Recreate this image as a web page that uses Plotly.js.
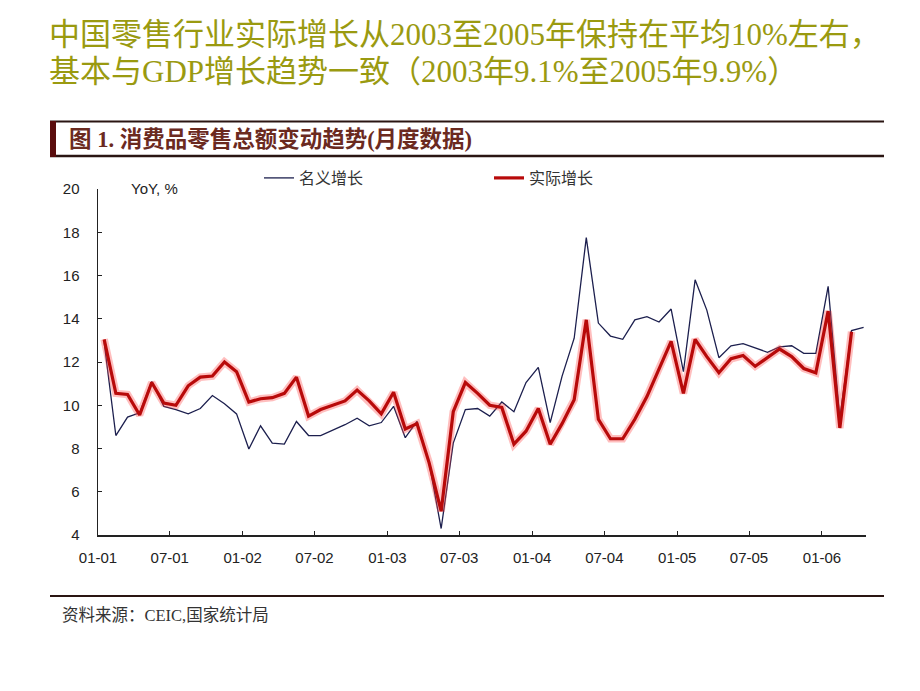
<!DOCTYPE html>
<html>
<head>
<meta charset="utf-8">
<script src="https://cdn.plot.ly/plotly-3.0.1.min.js"></script>
<style>
html,body{margin:0;padding:0;background:#fff;}
#chart{width:920px;height:691px;}
</style>
</head>
<body>
<div id="chart"></div>
<script>
// Months (YYYY-MM)
const months = [
"2001-01","2001-02","2001-03","2001-04","2001-05","2001-06","2001-07","2001-08","2001-09","2001-10","2001-11","2001-12",
"2002-01","2002-02","2002-03","2002-04","2002-05","2002-06","2002-07","2002-08","2002-09","2002-10","2002-11","2002-12",
"2003-01","2003-02","2003-03","2003-04","2003-05","2003-06","2003-07","2003-08","2003-09","2003-10","2003-11","2003-12",
"2004-01","2004-02","2004-03","2004-04","2004-05","2004-06","2004-07","2004-08","2004-09","2004-10","2004-11","2004-12",
"2005-01","2005-02","2005-03","2005-04","2005-05","2005-06","2005-07","2005-08","2005-09","2005-10","2005-11","2005-12",
"2006-01","2006-02","2006-03","2006-04"
];

// 名义增长 (nominal YoY, %)
const nominal = [
12.9, 8.6, 9.45, 9.65, 11.1, 9.95, 9.8, 9.6, 9.85, 10.45, 10.07, 9.6,
7.98, 9.05, 8.25, 8.2, 9.25, 8.6, 8.6, 8.85, 9.1, 9.4, 9.05, 9.2,
9.95, 8.5, 9.25, 7.35, 4.3, 8.25, 9.8, 9.85, 9.5, 10.15, 9.7, 11.05,
11.75, 9.2, 11.35, 13.1, 17.75, 13.8, 13.2, 13.05, 13.95, 14.1, 13.85, 14.45,
11.55, 15.8, 14.4, 12.2, 12.75, 12.85, 12.65, 12.45, 12.7, 12.75, 12.4, 12.4,
15.5, 9.4, 13.45, 13.6
];

// 实际增长 (real YoY, %)
const real = [
13.05, 10.55, 10.5, 9.55, 11.05, 10.1, 10.0, 10.9, 11.3, 11.35, 12.0, 11.55,
10.15, 10.3, 10.35, 10.55, 11.3, 9.5, 9.8, 10.0, 10.2, 10.7, 10.2, 9.6,
10.6, 8.9, 9.15, 7.35, 5.1, 9.7, 11.05, 10.55, 10.0, 9.9, 8.2, 8.8,
9.85, 8.2, 9.15, 10.25, 13.95, 9.35, 8.45, 8.45, 9.35, 10.4, 11.7, 12.95,
10.55, 13.05, 12.25, 11.5, 12.15, 12.3, 11.8, 12.2, 12.6, 12.25, 11.7, 11.5,
14.35, 8.95, 13.4
];

const seriesNames = ["名义增长", "实际增长"];
const yTicks = [4, 6, 8, 10, 12, 14, 16, 18, 20];

const titleLine1 = "中国零售行业实际增长从2003至2005年保持在平均10%左右，";
const titleLine2 = "基本与GDP增长趋势一致（2003年9.1%至2005年9.9%）";
const figTitle = "图 1. 消费品零售总额变动趋势(月度数据)";
const yUnit = "YoY, %";
const sourceText = "资料来源：CEIC,国家统计局";

const realMonths = months.slice(0, real.length);

const traces = [
  {
    x: months, y: nominal, type: "scatter", mode: "lines", name: seriesNames[0],
    xperiod: "M1", xperiodalignment: "middle",
    line: {color: "#1c1f4e", width: 1.3}
  },
  {
    x: realMonths, y: real, type: "scatter", mode: "lines", showlegend: false,
    xperiod: "M1", xperiodalignment: "middle", hoverinfo: "skip",
    line: {color: "rgba(255,70,70,0.35)", width: 7.5}
  },
  {
    x: realMonths, y: real, type: "scatter", mode: "lines", name: seriesNames[1],
    xperiod: "M1", xperiodalignment: "middle",
    line: {color: "#b80a0a", width: 3.2}
  }
];

const L = 98, R = 54, T = 189, B = 156;
const W = 920 - L - R, H = 691 - T - B;
const px = v => (v - L) / W;
const py = v => (691 - B - v) / H;

const serif = "Liberation Serif, Noto Sans CJK SC, serif";
const sans = "Liberation Sans, Arial, sans-serif";

const layout = {
  width: 920, height: 691,
  margin: {l: L, r: R, t: T, b: B},
  paper_bgcolor: "#ffffff", plot_bgcolor: "#ffffff",
  showlegend: true,
  legend: {
    orientation: "h", x: px(259), y: py(178), xanchor: "left", yanchor: "middle",
    font: {family: "Noto Sans CJK SC, sans-serif", size: 16, color: "#333"},
    entrywidth: 185, entrywidthmode: "pixels", bgcolor: "rgba(0,0,0,0)",
    itemclick: false, itemdoubleclick: false
  },
  xaxis: {
    type: "date",
    range: ["2001-01-01", "2006-04-22"],
    tick0: "2001-01-01", dtick: "M6", tickformat: "%m-%y",
    ticks: "inside", ticklen: 4, tickcolor: "#222", tickwidth: 1,
    ticklabelstandoff: 8,
    showline: true, linecolor: "#222", linewidth: 1.5,
    showgrid: false, zeroline: false,
    tickfont: {family: sans, size: 15, color: "#222"}
  },
  yaxis: {
    range: [4, 20], tickvals: yTicks,
    ticks: "inside", ticklen: 4, tickcolor: "#222", tickwidth: 1,
    ticklabelstandoff: 14,
    showline: true, linecolor: "#222", linewidth: 1.5,
    showgrid: false, zeroline: false,
    tickfont: {family: sans, size: 15, color: "#222"}
  },
  shapes: [
    {type: "line", xref: "paper", yref: "paper", x0: px(50), x1: px(884), y0: py(121.5), y1: py(121.5), line: {color: "#2a1512", width: 2}},
    {type: "line", xref: "paper", yref: "paper", x0: px(50), x1: px(884), y0: py(156), y1: py(156), line: {color: "#2a1512", width: 2.5}},
    {type: "rect", xref: "paper", yref: "paper", x0: px(50), x1: px(56), y0: py(157), y1: py(121), fillcolor: "#5a0d0d", line: {width: 0}},
    {type: "line", xref: "paper", yref: "paper", x0: px(50), x1: px(884), y0: py(596), y1: py(596), line: {color: "#2a1512", width: 2}}
  ],
  annotations: [
    {xref: "paper", yref: "paper", x: px(47), y: py(34), xanchor: "left", yanchor: "middle", showarrow: false,
     text: titleLine1, font: {family: serif, size: 31, color: "#9a9a10"}},
    {xref: "paper", yref: "paper", x: px(47), y: py(72), xanchor: "left", yanchor: "middle", showarrow: false,
     text: titleLine2, font: {family: serif, size: 31, color: "#9a9a10"}},
    {xref: "paper", yref: "paper", x: px(67), y: py(139), xanchor: "left", yanchor: "middle", showarrow: false,
     text: figTitle, font: {family: serif, size: 22.5, color: "#6b2a1f", weight: "bold"}},
    {xref: "paper", yref: "paper", x: px(129), y: py(188), xanchor: "left", yanchor: "middle", showarrow: false,
     text: yUnit, font: {family: sans, size: 15, color: "#222"}},
    {xref: "paper", yref: "paper", x: px(60), y: py(615), xanchor: "left", yanchor: "middle", showarrow: false,
     text: sourceText, font: {family: serif, size: 16.5, color: "#333"}}
  ]
};

Plotly.newPlot("chart", traces, layout, {displayModeBar: false, staticPlot: true});
</script>
</body>
</html>
